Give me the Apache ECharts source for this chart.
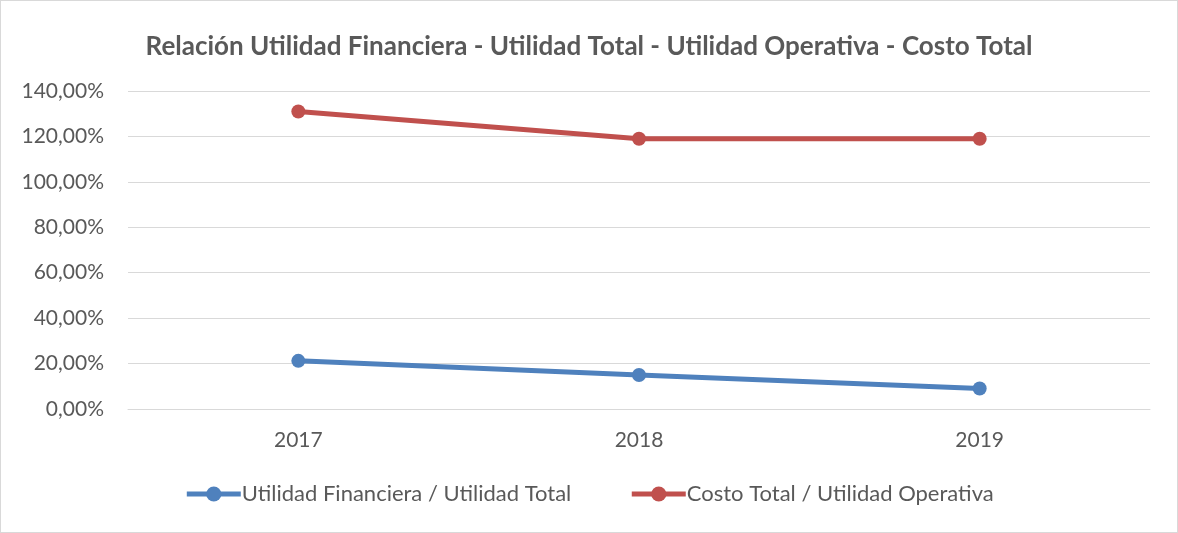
<!DOCTYPE html>
<html><head><meta charset="utf-8">
<script src="https://cdn.jsdelivr.net/npm/echarts@6/dist/echarts.min.js"></script>
<style>html,body{margin:0;padding:0;background:#fff}
#c{width:1178px;height:533px;box-sizing:border-box;border:1px solid #d9d9d9}</style>
</head><body><div id="c"></div>
<script>
const categories = ['2017', '2018', '2019'];
const financieraTotal = [21.2, 15.0, 9.0];
const costoOperativa = [131.0, 119.0, 119.0];
const seriesNames = ['Utilidad Financiera / Utilidad Total', 'Costo Total / Utilidad Operativa'];
const titleText = 'Relación Utilidad Financiera - Utilidad Total - Utilidad Operativa - Costo Total';

const font = 'Lato, "Open Sans", sans-serif';
const chart = echarts.init(document.getElementById('c'), null, {renderer: 'canvas'});
chart.setOption({
  animation: false,
  title: {text: titleText, left: 'center', top: 28,
    textStyle: {fontFamily: font, fontSize: 26, fontWeight: 'bold', color: '#595959'}},
  grid: {left: 127, right: 27, top: 90, bottom: 123, containLabel: false},
  legend: {bottom: 22, left: 'center', itemWidth: 54, itemHeight: 19, itemGap: 58,
    textStyle: {fontFamily: font, fontSize: 22, color: '#595959', padding: [0, 0, 0, -4]},
    lineStyle: {width: 5},
    data: seriesNames},
  xAxis: {type: 'category', data: categories, boundaryGap: true,
    axisLine: {lineStyle: {color: '#d9d9d9', width: 1}},
    axisTick: {show: false},
    axisLabel: {fontFamily: font, fontSize: 21, color: '#595959', margin: 21}},
  yAxis: {type: 'value', min: 0, max: 140, interval: 20,
    axisLine: {show: false}, axisTick: {show: false},
    splitLine: {lineStyle: {color: '#d9d9d9', width: 1}},
    axisLabel: {fontFamily: font, fontSize: 21, color: '#595959', margin: 24,
      formatter: v => v.toFixed(2).replace('.', ',') + '%'}},
  series: [
    {name: seriesNames[0], type: 'line', data: financieraTotal, symbol: 'circle', symbolSize: 14,
     lineStyle: {width: 5, color: '#4f81bd'}, itemStyle: {color: '#4f81bd'}},
    {name: seriesNames[1], type: 'line', data: costoOperativa, symbol: 'circle', symbolSize: 14,
     lineStyle: {width: 5, color: '#c0504d'}, itemStyle: {color: '#c0504d'}}
  ]
});
</script></body></html>
